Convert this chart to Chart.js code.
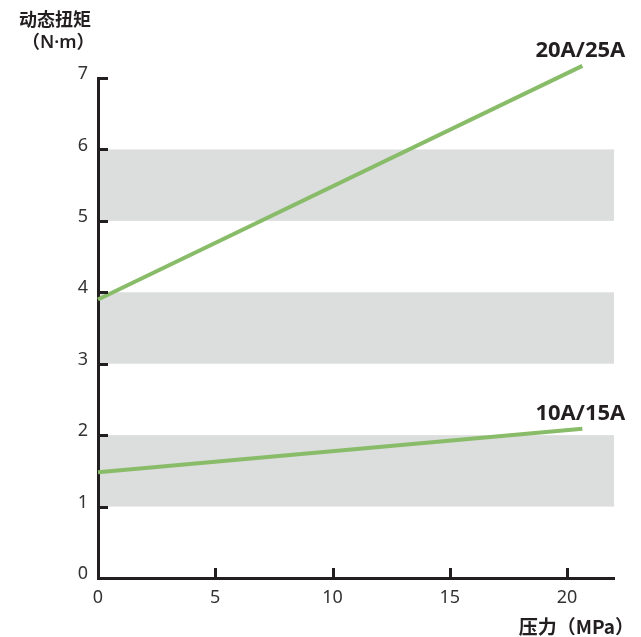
<!DOCTYPE html>
<html>
<head>
<meta charset="utf-8">
<script src="https://cdn.jsdelivr.net/npm/chart.js@4/dist/chart.umd.min.js"></script>
<style>
html,body{margin:0;padding:0;background:#fff;}
#wrap{position:relative;width:641px;height:637px;}
</style>
</head>
<body>
<div id="wrap"><canvas id="c" width="641" height="637"></canvas></div>
<script>
// ---- data ----
const pressure = [0, 20.65];
const torqueLarge = [3.9, 7.17];
const torqueSmall = [1.48, 2.09];
const seriesNames = ['20A/25A', '10A/15A'];
const xTicks = [0, 5, 10, 15, 20];
const yTicks = [0, 1, 2, 3, 4, 5, 6, 7];
const bands = [[1, 2], [3, 4], [5, 6]];
const yTitle = ['动态扭矩', '（N·m）'];
const xTitle = '压力（MPa）';

const GREEN = '#88bc69';
const AXIS = '#231f20';
const BAND = '#dcdddd';
const LATIN = "'Noto Sans', 'Open Sans', 'Noto Sans CJK SC', sans-serif";
const CJK = "'Noto Sans CJK SC', 'Noto Sans', sans-serif";

const toPts = (xs, ys) => xs.map((x, i) => ({x: x, y: ys[i]}));

const deco = {
  id: 'deco',
  beforeDraw(chart) {
    const {ctx, chartArea: a, scales: {x, y}} = chart;
    ctx.save();
    ctx.fillStyle = BAND;
    bands.forEach(([lo, hi]) => {
      const t = y.getPixelForValue(hi), b = y.getPixelForValue(lo);
      ctx.fillRect(a.left, t, a.right - a.left, b - t);
    });
    ctx.restore();
  },
  afterDraw(chart) {
    const {ctx, chartArea: a, scales: {x, y}} = chart;
    ctx.save();
    // inward tick marks
    ctx.strokeStyle = AXIS;
    ctx.lineWidth = 3;
    ctx.lineCap = 'butt';
    yTicks.forEach(v => {
      if (v === 0) return;
      const py = Math.round(y.getPixelForValue(v)) + 0.5;
      ctx.beginPath(); ctx.moveTo(a.left, py); ctx.lineTo(a.left + 10, py); ctx.stroke();
    });
    xTicks.forEach(v => {
      if (v === 0) return;
      const px = Math.round(x.getPixelForValue(v)) + 0.5;
      ctx.beginPath(); ctx.moveTo(px, a.bottom); ctx.lineTo(px, a.bottom - 10); ctx.stroke();
    });
    // series labels
    ctx.fillStyle = AXIS;
    ctx.font = "bold 22px " + LATIN;
    ctx.textAlign = 'right';
    ctx.textBaseline = 'middle';
    const ends = [torqueLarge, torqueSmall];
    ends.forEach((arr, i) => {
      const n = arr.length - 1;
      const px = x.getPixelForValue(pressure[n]);
      const py = y.getPixelForValue(arr[n]);
      ctx.fillText(seriesNames[i], px + 43, py - 15);
    });
    // axis titles
    ctx.textAlign = 'left';
    ctx.font = "bold 18px " + CJK;
    ctx.fillText(yTitle[0], 19, 19);
    ctx.font = "600 18px " + LATIN;
    ctx.fillText(yTitle[1], 22, 43);
    ctx.textAlign = 'right';
    ctx.font = "bold 19px " + CJK;
    ctx.fillText(xTitle, 634, 627);
    ctx.restore();
  }
};

new Chart(document.getElementById('c'), {
  type: 'line',
  data: {
    datasets: [
      {label: seriesNames[0], data: toPts(pressure, torqueLarge), borderColor: GREEN, borderWidth: 4, pointRadius: 0, tension: 0, fill: false, clip: false},
      {label: seriesNames[1], data: toPts(pressure, torqueSmall), borderColor: GREEN, borderWidth: 4, pointRadius: 0, tension: 0, fill: false, clip: false}
    ]
  },
  options: {
    responsive: false,
    animation: false,
    layout: {padding: {left: 38, right: 27, top: 78, bottom: 19}},
    plugins: {legend: {display: false}, tooltip: {enabled: false}},
    scales: {
      x: {
        type: 'linear', min: 0, max: 22,
        afterBuildTicks: s => { s.ticks = xTicks.map(v => ({value: v})); },
        afterFit: s => { s.height = 40; },
        grid: {display: false, drawTicks: false},
        border: {display: true, color: AXIS, width: 3},
        ticks: {color: '#333', font: {family: LATIN, size: 18}, padding: 9, maxRotation: 0}
      },
      y: {
        type: 'linear', min: 0, max: 7,
        afterBuildTicks: s => { s.ticks = yTicks.map(v => ({value: v})); },
        afterFit: s => { s.width = 60; },
        grid: {display: false, drawTicks: false},
        border: {display: true, color: AXIS, width: 3},
        ticks: {color: '#333', font: {family: LATIN, size: 18}, padding: 10, labelOffset: -4}
      }
    }
  },
  plugins: [deco]
});
</script>
</body>
</html>
